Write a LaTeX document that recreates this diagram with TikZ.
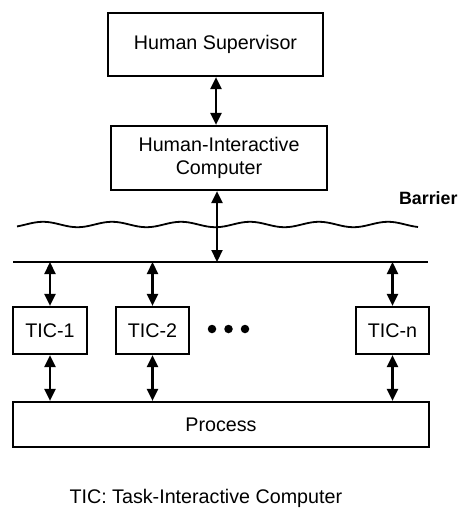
\documentclass[tikz,border=0pt]{standalone}
\usepackage{fontspec}
\setmainfont{Liberation Sans}
\usetikzlibrary{arrows.meta}
\begin{document}
\begin{tikzpicture}[x=1pt,y=-1pt,
  box/.style={draw,line width=2.2pt,inner sep=0pt,font=\fontsize{19.7}{23}\selectfont,align=center},
  link/.style={line width=2.2pt,{Triangle[length=12pt,width=11pt]}-{Triangle[length=12pt,width=11pt]}},
  dot/.style={circle,fill=black,inner sep=0pt,minimum size=8.5pt}]
\useasboundingbox (0,0) rectangle (462,508);

% supervisory levels
\node[box,minimum width=215pt,minimum height=63pt] (hs) at (215.5,44.5) {Human Supervisor};
\node[box,minimum width=216pt,minimum height=64pt] (hic) at (219,158) {Human-Interactive\\Computer};

% communication barrier (wavelength 69, i.e. 5.2174 degrees per unit)
\draw[line width=1.8pt] plot[domain=17:418,samples=160,smooth] ({\x},{224.5-2.7*cos(5.2174*(\x-43))});
\node[anchor=east,font=\fontsize{17.8}{20}\bfseries] (barrier) at (461,198) {Barrier};

% bus
\coordinate (busl) at (13,262);
\coordinate (busr) at (428,262);
\draw[line width=2.2pt] (busl) -- (busr);
\coordinate (bushic) at (217,262);

% task-interactive computers
\node[box,minimum width=74pt,minimum height=47pt] (tic1) at (50,330.5) {TIC-1};
\node[box,minimum width=73pt,minimum height=47pt] (tic2) at (152.5,330.5) {TIC-2};
\node[box,minimum width=73pt,minimum height=47pt] (ticn) at (392.5,330.5) {TIC-n};
\node[dot] (d1) at (212,329) {};
\node[dot] (d2) at (228.5,329) {};
\node[dot] (d3) at (245,329) {};

% process
\node[box,minimum width=416pt,minimum height=45pt] (proc) at (221,424.5) {Process};

% connectors
\draw[link] (hs.south -| 216,0) -- (hic.north -| 216,0);
\draw[link] (hic.south -| bushic) -- (bushic);
\foreach \t in {tic1,tic2,ticn}{
  \draw[link] (\t.north |- busl) -- (\t.north);
  \draw[link] (\t.south) -- (\t.south |- proc.north);
}

\node[anchor=west,font=\fontsize{19.7}{23}\selectfont] (note) at (66,498) {TIC: Task-Interactive Computer};
\end{tikzpicture}
\end{document}
